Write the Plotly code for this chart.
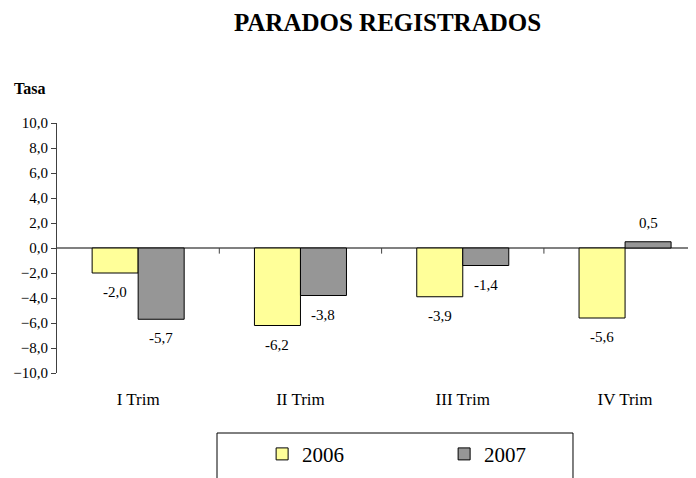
import plotly.graph_objects as go

categorias = ['I Trim', 'II Trim', 'III Trim', 'IV Trim']
tasa_2006 = [-2.0, -6.2, -3.9, -5.6]
tasa_2007 = [-5.7, -3.8, -1.4, 0.5]
series = [('2006', tasa_2006, '#FFFF99'), ('2007', tasa_2007, '#969696')]
y_ticks = [-10, -8, -6, -4, -2, 0, 2, 4, 6, 8, 10]

SERIF = 'Liberation Serif, Times New Roman, serif'

fig = go.Figure()
for i, (nombre, vals, color) in enumerate(series):
    fig.add_trace(go.Bar(x=categorias, y=vals, name=nombre, marker_color=color,
                         marker_line=dict(color='black', width=1), offsetgroup=str(i)))

# etiquetas de datos, desplazadas desde el extremo de cada barra
for i, (nombre, vals, color) in enumerate(series):
    for cat, v in zip(categorias, vals):
        fig.add_annotation(x=cat, y=v, text='{:.1f}'.format(v).replace('.', ','),
                           showarrow=False, xshift=-23 if i == 0 else 23,
                           yshift=19 if v > 0 else -19, yanchor='middle',
                           font=dict(family=SERIF, size=15, color='black'))

# marcas entre categorias sobre la linea del cero
for xb in [0.5, 1.5, 2.5]:
    fig.add_shape(type='line', xref='x', yref='y', x0=xb, x1=xb, y0=0, y1=-0.45,
                  line=dict(color='#404040', width=1))

# caja de la leyenda
fig.add_shape(type='rect', xref='paper', yref='paper', x0=0.2504, x1=0.8075,
              y0=-0.52, y1=-0.24, line=dict(color='black', width=1))

fig.add_annotation(text='<b>Tasa</b>', xref='paper', yref='paper', x=-0.0438, y=1.14,
                   xanchor='center', yanchor='middle', showarrow=False,
                   font=dict(family=SERIF, size=16, color='black'))

fig.update_layout(
    width=688, height=470,
    margin=dict(l=49, r=0, t=115, b=105),
    plot_bgcolor='white', paper_bgcolor='white',
    separators=',.',
    barmode='group', bargap=0.433, bargroupgap=0,
    title=dict(text='<b>PARADOS REGISTRADOS</b>', x=0.5516, xanchor='center',
               y=0.970, yanchor='middle',
               font=dict(family=SERIF, size=25, color='black')),
    showlegend=True,
    legend=dict(orientation='h', x=0.321, y=-0.243, xanchor='left', yanchor='top',
                bgcolor='rgba(0,0,0,0)', entrywidth=137, entrywidthmode='pixels',
                font=dict(family=SERIF, size=21, color='black')),
    font=dict(family=SERIF, size=15, color='black'),
)
fig.update_xaxes(range=[-0.5, 3.437], showline=False, showgrid=False, zeroline=False,
                 ticks='outside', ticklen=11, tickcolor='rgba(0,0,0,0)',
                 tickfont=dict(family=SERIF, size=17, color='black'))
fig.update_yaxes(range=[-10, 10], tickvals=y_ticks, tickformat='.1f',
                 showline=True, linecolor='#404040', linewidth=1,
                 ticks='outside', ticklen=5, tickcolor='#404040',
                 showgrid=False, zeroline=True, zerolinecolor='#808080', zerolinewidth=1.5,
                 tickfont=dict(family=SERIF, size=15, color='black'))

fig.write_html('out.html')
